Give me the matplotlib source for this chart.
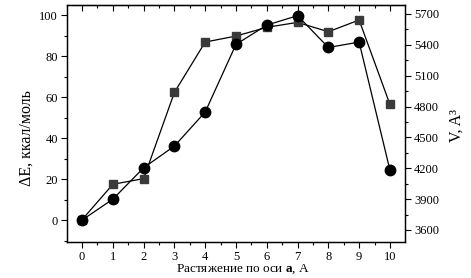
import matplotlib
matplotlib.use("Agg")
import matplotlib.pyplot as plt
from matplotlib.ticker import MultipleLocator

plt.rcParams['font.family'] = ['Liberation Serif', 'DejaVu Serif']
plt.rcParams['mathtext.fontset'] = 'custom'
plt.rcParams['mathtext.rm'] = 'Liberation Serif'
plt.rcParams['mathtext.bf'] = 'Liberation Serif:bold'

x = [0, 1, 2, 3, 4, 5, 6, 7, 8, 9, 10]
dE = [0, 10.2, 25.5, 36.1, 52.7, 85.7, 95.1, 99.7, 84.2, 86.8, 24.4]
V = [3700, 4044, 4099, 4938, 5427, 5485, 5570, 5618, 5527, 5641, 4821]
xticks = list(range(0, 11))

fig = plt.figure(figsize=(4.71, 2.78), dpi=100)
ax = fig.add_axes([67/471, 1 - 242/278, (405-67)/471, (242-5)/278])
ax2 = ax.twinx()

ax2.plot(x, V, color='black', lw=0.9, marker='s', ms=6, mfc='#3a3a3a', mec='#3a3a3a', zorder=2)
ax.plot(x, dE, color='black', lw=0.9, marker='o', ms=7.5, mfc='black', mec='black', zorder=3)
ax.set_zorder(ax2.get_zorder() + 1)
ax.patch.set_visible(False)

ax.set_xlim(-0.49, 10.49)
ax.set_ylim(-10.7, 104.9)
ax2.set_ylim(3483, 5787)

ax.set_xticks(xticks)
ax.xaxis.set_minor_locator(MultipleLocator(0.5))
ax.yaxis.set_major_locator(MultipleLocator(20))
ax.yaxis.set_minor_locator(MultipleLocator(10))
ax2.yaxis.set_major_locator(MultipleLocator(300))
ax2.yaxis.set_minor_locator(MultipleLocator(150))

ax.tick_params(axis='both', which='both', direction='out', labelsize=9, width=0.8, colors='black', pad=2.5)
ax.tick_params(which='major', length=4)
ax.tick_params(which='minor', length=2.5)
ax2.tick_params(axis='y', which='both', direction='out', labelsize=9, width=0.8, pad=2.5)
ax2.tick_params(axis='y', which='major', length=4)
ax2.tick_params(axis='y', which='minor', length=2.5)

top = ax.secondary_xaxis('top')
top.set_xticks(xticks)
top.xaxis.set_minor_locator(MultipleLocator(0.5))
top.tick_params(which='both', direction='in', labeltop=False, width=0.8)
top.tick_params(which='major', length=4)
top.tick_params(which='minor', length=2.5)

for a in (ax, ax2):
    for s in a.spines.values():
        s.set_linewidth(0.9)

ax.set_xlabel('Растяжение по оси $\\mathbf{a}$, A', fontsize=9.5)
ax.xaxis.set_label_coords(0.52, -0.088, transform=ax.transAxes)
ax.xaxis.label.set_va('top')
ax.set_ylabel('ΔE, ккал/моль', fontsize=11.5)
ax.yaxis.set_label_coords(-0.095, 0.44)
ax2.set_ylabel('V, A³', fontsize=11.5)
ax2.yaxis.set_label_coords(1.13, 0.49)

fig.savefig('out.png', dpi=100)
